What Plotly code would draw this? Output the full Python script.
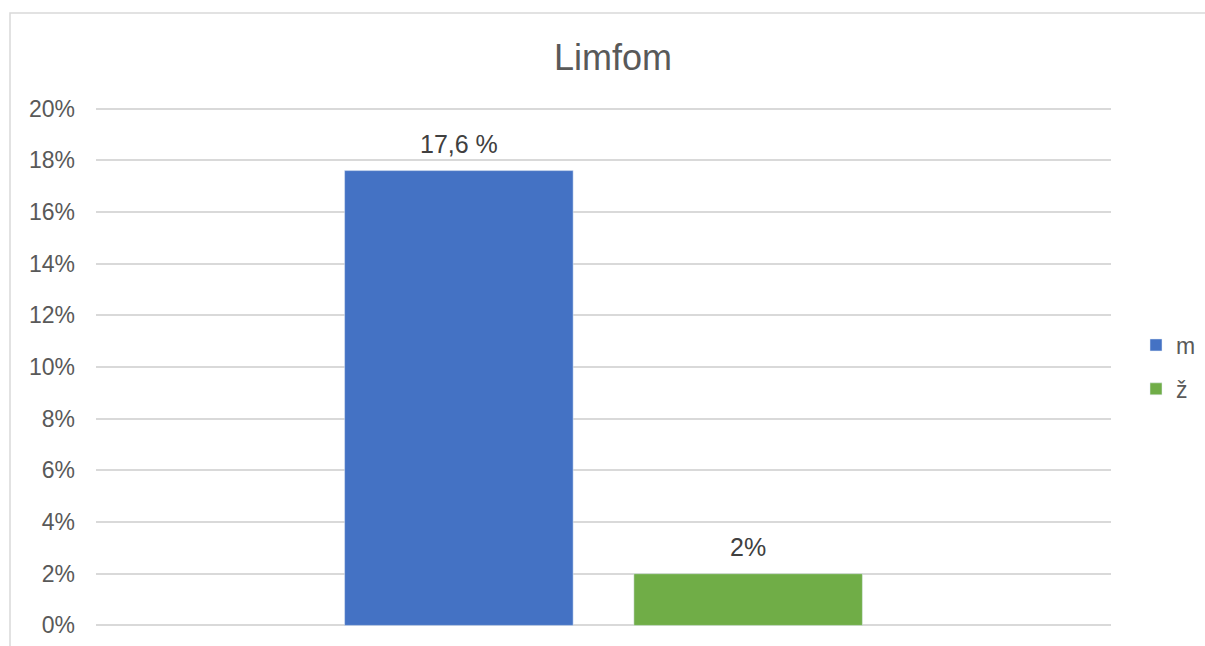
import plotly.graph_objects as go

category = ["Limfom"]
series_names = ["m", "ž"]
values = [0.176, 0.02]
labels = ["17,6 %", "2%"]
colors = ["#4472C4", "#70AD47"]
y_ticks = [0, 0.02, 0.04, 0.06, 0.08, 0.10, 0.12, 0.14, 0.16, 0.18, 0.20]
y_tick_text = ["0%", "2%", "4%", "6%", "8%", "10%", "12%", "14%", "16%", "18%", "20%"]

FONT = "Liberation Sans, Arial, sans-serif"
GREY = "#595959"
W, H = 1205, 646
L, R, T, B = 96, 94, 106, 18
PLOT_W = W - L - R
PLOT_H = H - T - B
BARGAP = 0.43
BARGROUPGAP = 0.21

fig = go.Figure()
for name, v, c in zip(series_names, values, colors):
    fig.add_trace(go.Bar(
        x=category, y=[v], name=name, marker_color=c,
        legendgroup=name,
    ))

# data labels above the bars (positions from data values)
slot = PLOT_W * (1 - BARGAP) / len(series_names)
for i, (v, lab) in enumerate(zip(values, labels)):
    off = (i - (len(series_names) - 1) / 2) * slot
    fig.add_annotation(x=category[0], y=v, xref="x", yref="y",
                       text=lab, showarrow=False, yanchor="bottom",
                       xanchor="center", xshift=off, yshift=11,
                       font=dict(family=FONT, size=25, color="#404040"))

fig.update_layout(
    width=W, height=H, autosize=False,
    margin=dict(l=L, r=R, t=T, b=B, autoexpand=False),
    paper_bgcolor="white", plot_bgcolor="white",
    barmode="group", bargap=BARGAP, bargroupgap=BARGROUPGAP,
    title=dict(text="Limfom", x=613 / W, xref="container", xanchor="center",
               y=(H - 57) / H, yref="container", yanchor="middle",
               font=dict(family=FONT, size=36, color=GREY)),
    xaxis=dict(showticklabels=False, showgrid=False, zeroline=False, showline=False, ticks=""),
    yaxis=dict(range=[-0.001, 0.201], tickvals=y_ticks, ticktext=y_tick_text,
               showgrid=True, gridcolor="#d9d9d9", gridwidth=1.5,
               zeroline=False, showline=False, ticks="",
               ticklabelstandoff=20,
               tickfont=dict(family=FONT, size=23, color=GREY)),
    legend=dict(x=(1136 - L) / PLOT_W, xanchor="left", y=0.5, yanchor="middle",
                traceorder="grouped", tracegroupgap=11,
                font=dict(family=FONT, size=23, color=GREY)),
    showlegend=True,
)

fig.add_shape(type="rect", xref="paper", yref="paper",
              x0=(10 - L) / PLOT_W, x1=(1210 - L) / PLOT_W,
              y0=(H - B - 700) / PLOT_H, y1=(H - B - 13) / PLOT_H,
              line=dict(color="#d9d9d9", width=1.5), layer="below")

fig.write_html("out.html",
               config={"responsive": False, "displayModeBar": False},
               post_script="document.body.style.margin='0';document.body.style.overflow='hidden';")
